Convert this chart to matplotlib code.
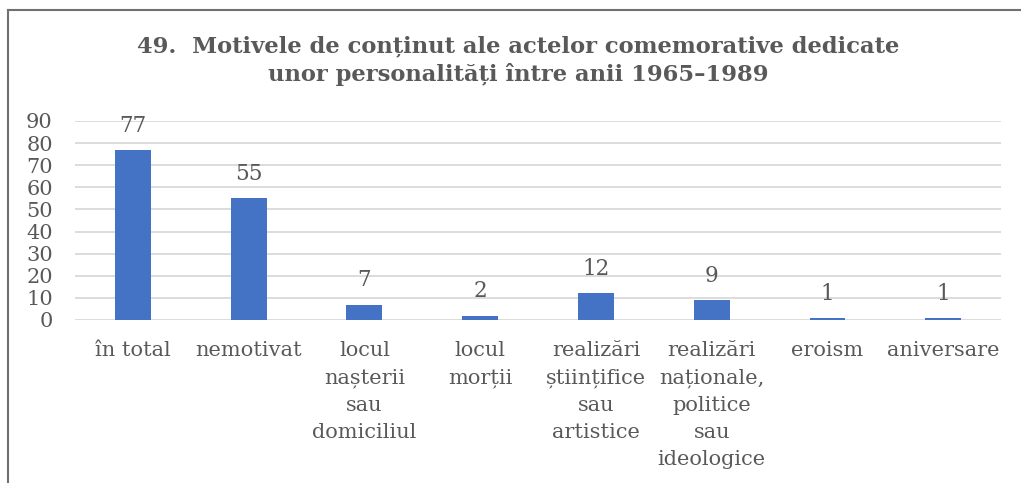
import matplotlib.pyplot as plt
from matplotlib.lines import Line2D

categories = ['în total', 'nemotivat', 'locul\nnașterii\nsau\ndomiciliul', 'locul\nmorții',
              'realizări\nștiințifice\nsau\nartistice', 'realizări\nnaționale,\npolitice\nsau\nideologice',
              'eroism', 'aniversare']
values = [77, 55, 7, 2, 12, 9, 1, 1]
yticks = [0, 10, 20, 30, 40, 50, 60, 70, 80, 90]
title = '49.  Motivele de conținut ale actelor comemorative dedicate\nunor personalități între anii 1965–1989'

plt.rcParams['font.family'] = ['DejaVu Serif']

fig = plt.figure(figsize=(10.21, 4.83), dpi=100)
ax = fig.add_axes([0.0735, 0.3375, 0.907, 0.412])

x = list(range(len(values)))
ax.bar(x, values, width=0.31, color='#4472C4', zorder=3)
for xi, v in zip(x, values):
    ax.annotate(str(v), (xi, v), xytext=(0, 9.5), textcoords='offset points',
                ha='center', va='bottom', fontsize=15.5, color='#595959')

ax.set_xlim(-0.5, len(values) - 0.5)
ax.set_ylim(0, 90)
ax.set_yticks(yticks)
ax.set_xticks(x)
ax.set_xticklabels(categories, linespacing=1.55)
ax.tick_params(axis='both', length=0, labelsize=15, labelcolor='#595959')
ax.tick_params(axis='y', pad=16)
ax.tick_params(axis='x', pad=15)
ax.grid(axis='y', color='#D9D9D9', linewidth=1.3, zorder=0)
for s in ax.spines.values():
    s.set_visible(False)

fig.text(0.508, 0.875, title, ha='center', va='center', fontsize=16.3, fontweight='bold',
         color='#595959', linespacing=1.3)

# chart frame (cut off at right and bottom)
fig.add_artist(Line2D([8 / 1021, 1], [1 - 10 / 483] * 2, color='#707070', linewidth=1.5))
fig.add_artist(Line2D([8 / 1021] * 2, [0, 1 - 10 / 483], color='#707070', linewidth=1.5))

fig.savefig('out.png', dpi=100)
